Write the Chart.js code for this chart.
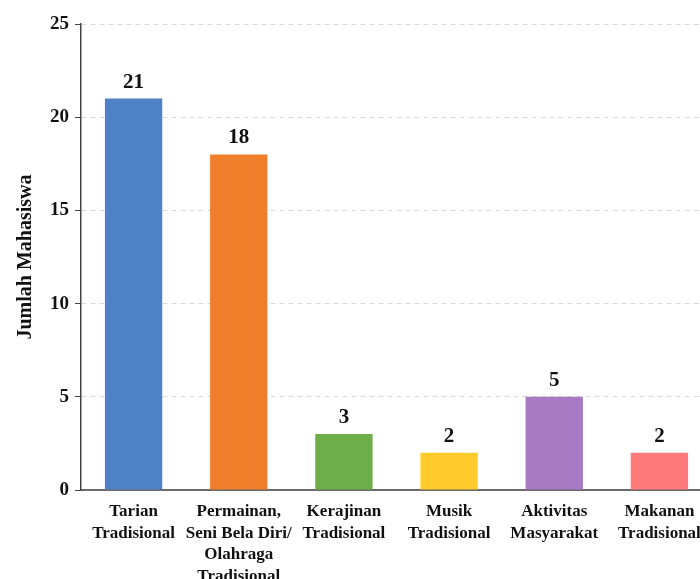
<!DOCTYPE html>
<html>
<head>
<meta charset="utf-8">
<script src="https://cdn.jsdelivr.net/npm/chart.js@4"></script>
<style>
  html, body { margin: 0; padding: 0; background: #fff; overflow: hidden; }
  #wrap { width: 712px; height: 590px; }
</style>
</head>
<body>
<div id="wrap"><canvas id="barChart" width="712" height="590"></canvas></div>
<script>
// Categories and counts
const categories = [
    ['Tarian', 'Tradisional'],
    ['Permainan,', 'Seni Bela Diri/', 'Olahraga', 'Tradisional'],
    ['Kerajinan', 'Tradisional'],
    ['Musik', 'Tradisional'],
    ['Aktivitas', 'Masyarakat'],
    ['Makanan', 'Tradisional']
];
const counts = [21, 18, 3, 2, 5, 2];
const barColors = ['#4f81c7', '#f07f2b', '#6dae4a', '#ffca2b', '#a97ac4', '#ff7a7a'];
const yTicks = [0, 5, 10, 15, 20, 25];

const serif = "'Liberation Serif', 'DejaVu Serif', serif";

// Draw value labels above each bar
const valueLabels = {
    id: 'valueLabels',
    afterDatasetsDraw(chart) {
        const ctx = chart.ctx;
        const meta = chart.getDatasetMeta(0);
        ctx.save();
        ctx.font = 'bold 21px ' + serif;
        ctx.fillStyle = '#111';
        ctx.textAlign = 'center';
        ctx.textBaseline = 'alphabetic';
        meta.data.forEach(function (bar, i) {
            ctx.fillText(String(counts[i]), bar.x, bar.y - 11);
        });
        ctx.restore();
    }
};

const ctx = document.getElementById('barChart').getContext('2d');
new Chart(ctx, {
    type: 'bar',
    data: {
        labels: categories,
        datasets: [{
            data: counts,
            backgroundColor: barColors,
            borderWidth: 0,
            barPercentage: 0.545,
            categoryPercentage: 1
        }]
    },
    options: {
        responsive: false,
        animation: false,
        layout: { padding: { top: 24, left: 14, right: 0, bottom: 0 } },
        plugins: {
            legend: { display: false },
            tooltip: { enabled: false }
        },
        scales: {
            x: {
                grid: { display: false },
                border: { display: true, color: '#6b6b6b', width: 2 },
                ticks: {
                    color: '#111',
                    font: { family: serif, size: 17, weight: 'bold', lineHeight: '21.5px' },
                    maxRotation: 0,
                    autoSkip: false,
                    padding: 3
                }
            },
            y: {
                min: 0,
                max: 25,
                afterBuildTicks(axis) {
                    axis.ticks = yTicks.map(v => ({ value: v }));
                },
                grid: {
                    color: '#d9d9d9',
                    lineWidth: 1,
                    tickColor: '#444',
                    tickLength: 6,
                    tickBorderDash: []
                },
                border: { display: true, color: '#444', width: 1.5, dash: [5, 4] },
                ticks: {
                    color: '#111',
                    font: { family: serif, size: 19, weight: 'bold' },
                    padding: 6
                },
                title: {
                    display: true,
                    text: 'Jumlah Mahasiswa',
                    color: '#111',
                    font: { family: serif, size: 20, weight: 'bold' },
                    padding: { top: 0, bottom: 6 }
                }
            }
        }
    },
    plugins: [valueLabels]
});
</script>
</body>
</html>
